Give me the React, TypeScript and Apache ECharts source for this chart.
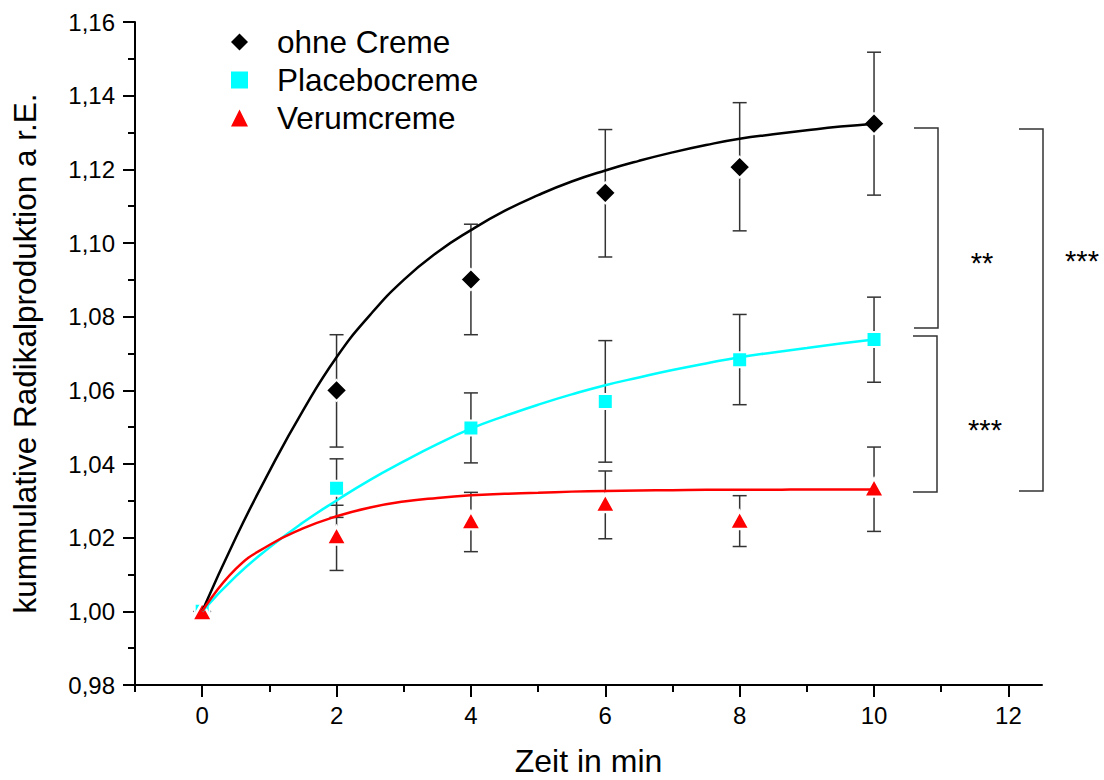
import React, { useEffect, useRef } from "react";
import * as echarts from "echarts";

const FONT = "'Liberation Sans', Arial, sans-serif";

// measurement times (min)
const times = [0, 2, 4, 6, 8, 10];

// ohne Creme
const ohneMean = [1.0, 1.06, 1.0901, 1.1136, 1.1206, 1.1324];
const ohneLow = [1.0, 1.0446, 1.0751, 1.0962, 1.1033, 1.113];
const ohneHigh = [1.0, 1.0751, 1.1051, 1.1308, 1.1381, 1.1518];

// Placebocreme
const placeboMean = [1.0, 1.0334, 1.0498, 1.057, 1.0683, 1.0738];
const placeboLow = [1.0, 1.0255, 1.0403, 1.0405, 1.0561, 1.0622];
const placeboHigh = [1.0, 1.0414, 1.0593, 1.0735, 1.0806, 1.0853];

// Verumcreme
const verumMean = [1.0, 1.0206, 1.0247, 1.0294, 1.0248, 1.0336];
const verumLow = [1.0, 1.0111, 1.0162, 1.0197, 1.0176, 1.0217];
const verumHigh = [1.0, 1.0288, 1.0323, 1.0381, 1.0314, 1.0446];

// fitted curves
const fitX = [0, 0.5, 1, 1.5, 2, 2.5, 3, 3.5, 4, 4.5, 5, 5.5, 6, 6.5, 7, 7.5, 8, 8.5, 9, 9.5, 10];
const fitOhne = [1.0, 1.02, 1.038, 1.0545, 1.069, 1.0805, 1.09, 1.0975, 1.1035, 1.1087, 1.113, 1.1167, 1.1197, 1.1223, 1.1246, 1.1266, 1.1283, 1.1295, 1.1306, 1.1316, 1.1324];
const fitPlacebo = [1.0, 1.0095, 1.0173, 1.0241, 1.0301, 1.0357, 1.0407, 1.0454, 1.0496, 1.053, 1.0561, 1.0589, 1.0614, 1.0635, 1.0655, 1.0673, 1.069, 1.0703, 1.0715, 1.0727, 1.0738];
const fitVerum = [1.0, 1.0115, 1.018, 1.0225, 1.0258, 1.0282, 1.0298, 1.0308, 1.0315, 1.0319, 1.0322, 1.0325, 1.0327, 1.0328, 1.0329, 1.033, 1.033, 1.033, 1.0331, 1.0331, 1.0331];

// axis ticks
const xMajorTicks = [0, 2, 4, 6, 8, 10, 12];
const xMinorTicks = [-1, 1, 3, 5, 7, 9, 11];

const seriesNames = ["ohne Creme", "Placebocreme", "Verumcreme"];
const colors = ["#000000", "#00FFFF", "#FF0000"];

const pairs = (xs: number[], ys: number[]) => xs.map((x, i) => [x, ys[i]]);
const bars = (xs: number[], lo: number[], hi: number[]) =>
  xs.map((x, i) => [x, lo[i], hi[i]]).filter((d) => d[1] !== d[2]);

function errorBarSeries(data: number[][]) {
  return {
    type: "custom",
    z: 2,
    silent: true,
    encode: { x: 0, y: [1, 2] },
    data,
    renderItem: (params: any, api: any) => {
      const x = api.value(0);
      const top = api.coord([x, api.value(2)]);
      const bot = api.coord([x, api.value(1)]);
      const w = 7;
      const style = { stroke: "#333333", lineWidth: 1.5 };
      return {
        type: "group",
        children: [
          { type: "line", shape: { x1: top[0], y1: top[1], x2: bot[0], y2: bot[1] }, style },
          { type: "line", shape: { x1: top[0] - w, y1: top[1], x2: top[0] + w, y2: top[1] }, style },
          { type: "line", shape: { x1: bot[0] - w, y1: bot[1], x2: bot[0] + w, y2: bot[1] }, style },
        ],
      };
    },
  };
}

function bracket(xOuter: number, xInner: number, yTop: number, yBottom: number) {
  return {
    type: "polyline",
    shape: { points: [[xInner, yTop], [xOuter, yTop], [xOuter, yBottom], [xInner, yBottom]] },
    style: { stroke: "#333", lineWidth: 1.5, fill: "none" },
    z: 10,
  };
}

function stars(text: string, cx: number, cy: number) {
  return {
    type: "text",
    x: cx,
    y: cy,
    style: { text, font: `29px ${FONT}`, fill: "#000", align: "center", verticalAlign: "middle" },
    z: 10,
  };
}

export default function App() {
  const ref = useRef<HTMLDivElement>(null);

  useEffect(() => {
    if (!ref.current) return;
    const chart = echarts.init(ref.current, undefined, { renderer: "svg" });
    chart.setOption({
      animation: false,
      grid: { left: 135, right: 62, top: 22, bottom: 95, outerBoundsMode: "none" },
      legend: {
        orient: "vertical",
        left: 226,
        top: 21,
        itemWidth: 17,
        itemHeight: 17,
        itemGap: 6,
        selectedMode: false,
        itemStyle: { borderWidth: 0 },
        textStyle: { fontSize: 31.5, lineHeight: 31.5, color: "#000", fontFamily: FONT, padding: [0, 0, 0, 24] },
        data: [
          { name: seriesNames[0], icon: "diamond" },
          { name: seriesNames[1], icon: "rect" },
          { name: seriesNames[2], icon: "triangle" },
        ],
      },
      xAxis: [
        {
          type: "value",
          min: -1,
          max: 12.5,
          name: "Zeit in min",
          nameLocation: "middle",
          nameGap: 60,
          nameTextStyle: { fontSize: 32, color: "#000", fontFamily: FONT },
          axisLine: { show: true, onZero: false, lineStyle: { color: "#000", width: 2 } },
          axisTick: { show: true, length: 12, customValues: xMajorTicks, lineStyle: { color: "#000", width: 2 } },
          axisLabel: { customValues: xMajorTicks, fontSize: 24, color: "#000", margin: 18, fontFamily: FONT },
          splitLine: { show: false },
        },
        {
          type: "value",
          position: "bottom",
          min: -1,
          max: 12.5,
          axisLine: { show: false, onZero: false },
          axisTick: { show: true, length: 7, customValues: xMinorTicks, lineStyle: { color: "#000", width: 2 } },
          axisLabel: { show: false },
          splitLine: { show: false },
        },
      ],
      yAxis: {
        type: "value",
        min: 0.98,
        max: 1.16,
        interval: 0.02,
        name: "kummulative Radikalproduktion a r.E.",
        nameLocation: "middle",
        nameGap: 94,
        nameTextStyle: { fontSize: 31.5, color: "#000", fontFamily: FONT },
        axisLine: { show: true, onZero: false, lineStyle: { color: "#000", width: 2 } },
        axisTick: { show: true, length: 12, lineStyle: { color: "#000", width: 2 } },
        minorTick: { show: true, splitNumber: 2, length: 7, lineStyle: { color: "#000", width: 2 } },
        axisLabel: {
          fontSize: 24,
          color: "#000",
          margin: 20,
          fontFamily: FONT,
          formatter: (v: number) => v.toFixed(2).replace(".", ","),
        },
        splitLine: { show: false },
      },
      series: [
        errorBarSeries(bars(times, ohneLow, ohneHigh)),
        errorBarSeries(bars(times, placeboLow, placeboHigh)),
        errorBarSeries(bars(times, verumLow, verumHigh)),
        {
          name: seriesNames[0],
          type: "scatter",
          z: 3,
          symbol: "diamond",
          symbolSize: 21,
          itemStyle: { color: colors[0], borderColor: "#fff", borderWidth: 2, opacity: 1 },
          data: pairs(times, ohneMean),
        },
        {
          name: seriesNames[1],
          type: "scatter",
          z: 3,
          symbol: "rect",
          symbolSize: 15,
          itemStyle: { color: colors[1], borderColor: "#fff", borderWidth: 2, opacity: 1 },
          data: pairs(times, placeboMean),
        },
        {
          name: seriesNames[2],
          type: "scatter",
          z: 3,
          symbol: "triangle",
          symbolSize: [20, 18],
          itemStyle: { color: colors[2], borderColor: "#fff", borderWidth: 2.5, opacity: 1 },
          data: pairs(times, verumMean),
        },
        {
          name: "Fit ohne Creme",
          type: "line",
          z: 4,
          smooth: 0.5,
          symbol: "none",
          lineStyle: { color: colors[0], width: 2.5 },
          data: pairs(fitX, fitOhne),
        },
        {
          name: "Fit Placebocreme",
          type: "line",
          z: 4,
          smooth: 0.5,
          symbol: "none",
          lineStyle: { color: colors[1], width: 2.5 },
          data: pairs(fitX, fitPlacebo),
        },
        {
          name: "Fit Verumcreme",
          type: "line",
          z: 4,
          smooth: 0.5,
          symbol: "none",
          lineStyle: { color: colors[2], width: 2.5 },
          data: pairs(fitX, fitVerum),
        },
      ],
      graphic: [
        bracket(938, 914, 128, 328),
        bracket(937, 913, 336, 492),
        bracket(1043, 1019, 129, 491),
        stars("**", 982, 263),
        stars("***", 985, 430),
        stars("***", 1082, 261),
      ],
    });
    return () => chart.dispose();
  }, []);

  return (
    <div
      ref={ref}
      style={{ position: "fixed", left: 0, top: 0, width: 1104, height: 780, background: "#fff" }}
    />
  );
}
